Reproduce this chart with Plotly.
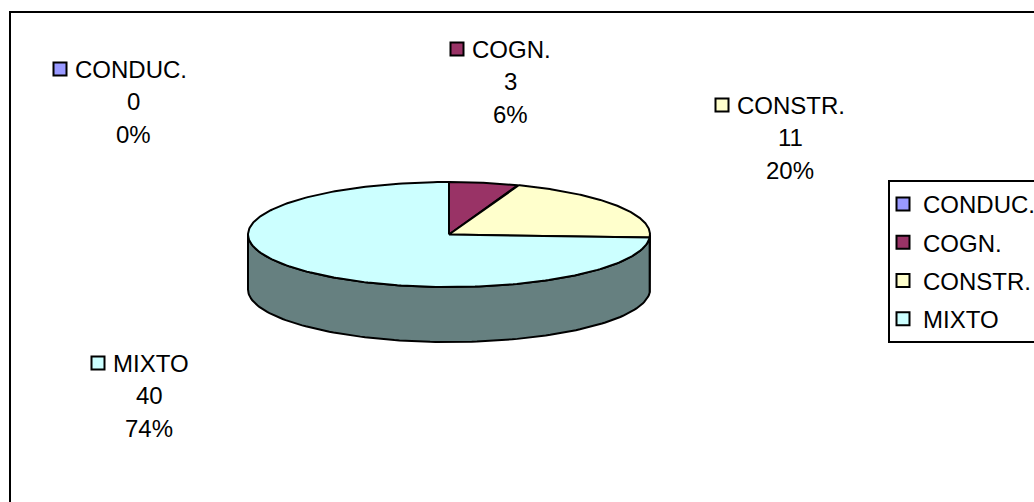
import numpy as np
import plotly.graph_objects as go

categories = ["CONDUC.", "COGN.", "CONSTR.", "MIXTO"]
values = [0, 3, 11, 40]
top_colors = ["#9999FF", "#993366", "#FFFFCC", "#CCFFFF"]
wall_colors = ["#4D4D80", "#4D1A33", "#808066", "#668080"]

# layout of the tilted pie (pixel space of the axes)
CX, CY, RX, RY, DEPTH = 449, 234.5, 201, 52.5, 55
FONT = dict(family="Liberation Sans, Arial, sans-serif", size=24, color="black")
label_pos = {  # swatch x, first line y, text centre x
    "CONDUC.": (60, 69, 133),
    "COGN.": (457, 49, 510),
    "CONSTR.": (722, 105, 790),
    "MIXTO": (98, 363, 149),
}
LINE_GAP = 32.5

total = sum(values)


def ell(a_deg, dy=0.0):
    a = np.radians(a_deg)
    return CX + RX * np.sin(a), CY - RY * np.cos(a) + dy


fig = go.Figure()
edge = dict(color="black", width=2)

# side wall: only the front half of the rim is visible (90..270 deg clockwise from top)
start = 0.0
spans = []
for v in values:
    spans.append((start, start + 360 * v / total))
    start += 360 * v / total
for (a0, a1), wc in zip(spans, wall_colors):
    lo, hi = max(a0, 90), min(a1, 270)
    if hi <= lo:
        continue
    t = np.linspace(lo, hi, 120)
    x1, y1 = ell(t)
    x2, y2 = ell(t[::-1], DEPTH)
    fig.add_trace(go.Scatter(x=np.r_[x1, x2, x1[0]], y=np.r_[y1, y2, y1[0]], mode="lines",
                             fill="toself", fillcolor=wc, line=edge, showlegend=False, hoverinfo="skip"))

# top face
for (a0, a1), tc in zip(spans, top_colors):
    if a1 <= a0:
        continue
    t = np.linspace(a0, a1, 240)
    x, y = ell(t)
    fig.add_trace(go.Scatter(x=np.r_[CX, x, CX], y=np.r_[CY, y, CY], mode="lines",
                             fill="toself", fillcolor=tc, line=edge, showlegend=False, hoverinfo="skip"))

# legend entries
for i, (name, tc) in enumerate(zip(categories, top_colors)):
    fig.add_trace(go.Scatter(x=[None], y=[None], mode="markers", name=name, legendgroup=name,
                             marker=dict(symbol="square", size=13, color=tc,
                                         line=dict(color="black", width=2))))

# data labels: swatch + name, value, percent
for name, v, tc in zip(categories, values, top_colors):
    sx, ly, cx = label_pos[name]
    fig.add_trace(go.Scatter(x=[sx], y=[ly], mode="markers", showlegend=False, hoverinfo="skip",
                             marker=dict(symbol="square", size=13, color=tc,
                                         line=dict(color="black", width=2))))
    fig.add_annotation(x=sx + 15, y=ly, text=name, xanchor="left", yanchor="middle",
                       showarrow=False, font=FONT, xshift=-2)
    fig.add_annotation(x=cx, y=ly + LINE_GAP, text=str(v), xanchor="center", yanchor="middle",
                       showarrow=False, font=FONT)
    fig.add_annotation(x=cx, y=ly + 2 * LINE_GAP, text=f"{round(100 * v / total)}%", xanchor="center",
                       yanchor="middle", showarrow=False, font=FONT)

# chart frame
fig.add_shape(type="rect", x0=10, y0=12, x1=1040, y1=510, line=dict(color="black", width=2),
              fillcolor="rgba(0,0,0,0)", layer="below")

fig.update_layout(
    width=1034, height=502,
    margin=dict(l=0, r=0, t=0, b=0, pad=0, autoexpand=False),
    paper_bgcolor="white", plot_bgcolor="white",
    xaxis=dict(range=[0, 1034], visible=False, fixedrange=True),
    yaxis=dict(range=[502, 0], visible=False, fixedrange=True),
    legend=dict(x=888 / 1034, y=1 - 180 / 502, xanchor="left", yanchor="top",
                bordercolor="black", borderwidth=2, bgcolor="white", font=FONT,
                tracegroupgap=4, indentation=-7, traceorder="grouped"),
)
fig.write_html("out.html", config={"displayModeBar": False},
               post_script="document.body.style.margin='0';")
